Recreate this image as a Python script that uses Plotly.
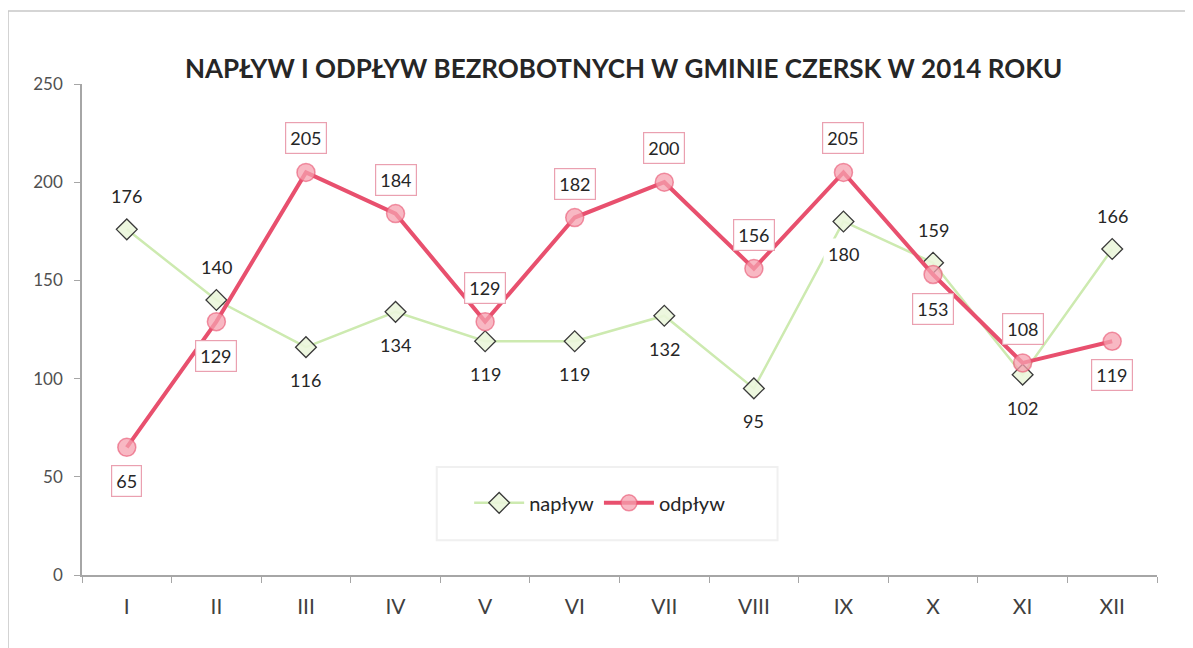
import plotly.graph_objects as go

months = ["I", "II", "III", "IV", "V", "VI", "VII", "VIII", "IX", "X", "XI", "XII"]
naplyw = [176, 140, 116, 134, 119, 119, 132, 95, 180, 159, 102, 166]
odplyw = [65, 129, 205, 184, 129, 182, 200, 156, 205, 153, 108, 119]
y_ticks = [0, 50, 100, 150, 200, 250]
title_text = "NAPŁYW I ODPŁYW BEZROBOTNYCH W GMINIE CZERSK W 2014 ROKU"

# label placement: +1 above, -1 below
naplyw_side = [1, 1, -1, -1, -1, -1, -1, -1, -1, 1, -1, 1]
odplyw_side = [-1, -1, 1, 1, 1, 1, 1, 1, 1, -1, 1, -1]

FONT = "Lato"
GREEN_LINE = "#cdeab0"
RED = "#e8506e"

fig = go.Figure()
fig.add_trace(go.Scatter(
    x=months, y=naplyw, name="napływ", mode="lines+markers",
    line=dict(color=GREEN_LINE, width=2.5),
    marker=dict(symbol="diamond", size=16, color="rgba(235,246,220,0.9)",
                line=dict(color="#3a3a3a", width=1.3)),
))
fig.add_trace(go.Scatter(
    x=months, y=odplyw, name="odpływ", mode="lines+markers",
    line=dict(color=RED, width=4),
    marker=dict(symbol="circle", size=18, color="rgba(245,160,175,0.75)",
                line=dict(color="rgba(232,80,110,0.6)", width=1.5)),
))

annotations = []
for m, v, s in zip(months, naplyw, naplyw_side):
    annotations.append(dict(
        x=m, y=v, xref="x", yref="y", text=str(v), showarrow=False,
        yshift=33 * s, font=dict(family=FONT, size=18, color="#262626"),
        bgcolor="white", borderpad=4,
    ))
for m, v, s in zip(months, odplyw, odplyw_side):
    annotations.append(dict(
        x=m, y=v, xref="x", yref="y", text=str(v), showarrow=False,
        yshift=34 * s, font=dict(family=FONT, size=18, color="#262626"),
        bgcolor="white", bordercolor="#eaa0b0", borderwidth=1.2, borderpad=4,
    ))
annotations.append(dict(
    x=0.5, y=1.0, xref="paper", yref="paper", yshift=34, xshift=4,
    text="<b>" + title_text + "</b>", showarrow=False,
    font=dict(family=FONT, size=26, color="#262626"),
))

shapes = [
    # outer chart frame
    dict(type="rect", xref="paper", yref="paper",
         x0=-0.0688, x1=1.06, y0=-0.25, y1=1.1487,
         line=dict(color="#c8c8c8", width=1.5), fillcolor="rgba(0,0,0,0)", layer="below"),
    # legend frame
    dict(type="rect", xref="paper", yref="paper",
         x0=0.330, x1=0.647, y0=0.071, y1=0.220,
         line=dict(color="#f0f0f0", width=2), fillcolor="white", layer="below"),
]

fig.update_layout(
    width=1185, height=640,
    margin=dict(l=74, r=36, t=76, b=73),
    paper_bgcolor="white", plot_bgcolor="white",
    showlegend=True,
    legend=dict(orientation="h", x=0.482, y=0.147, xanchor="center", yanchor="middle",
                bgcolor="rgba(0,0,0,0)", borderwidth=0,
                font=dict(family=FONT, size=20, color="#262626"),
                itemwidth=50, tracegroupgap=0),
    annotations=annotations,
    shapes=shapes,
    xaxis=dict(
        type="category", categoryorder="array", categoryarray=months,
        showline=True, linecolor="#a6a6a6", linewidth=1.5,
        ticks="outside", tickson="boundaries", ticklen=6, tickcolor="#a6a6a6",
        showgrid=False, zeroline=False,
        tickfont=dict(family=FONT, size=21, color="#404040"),
        ticklabelstandoff=12,
        range=[-0.5, 11.5],
    ),
    yaxis=dict(
        range=[0, 250], tickvals=y_ticks,
        showline=True, linecolor="#a6a6a6", linewidth=1.5,
        ticks="outside", ticklen=6, tickcolor="#a6a6a6",
        showgrid=False, zeroline=False,
        tickfont=dict(family=FONT, size=17, color="#505050"),
        ticklabelstandoff=8,
    ),
)

fig.write_html("out.html")
